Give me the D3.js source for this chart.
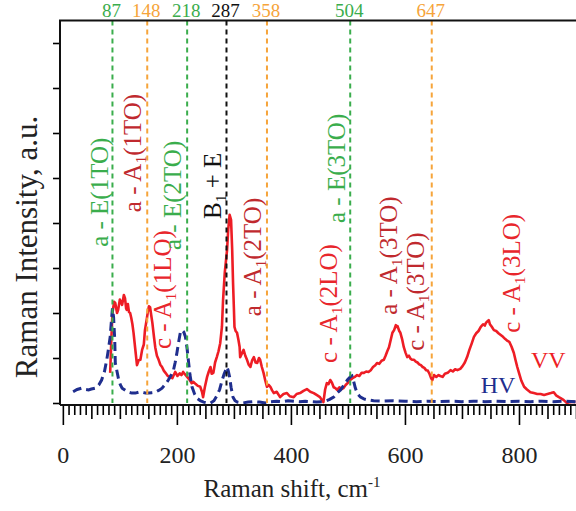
<!DOCTYPE html>
<html>
<head>
<meta charset="utf-8">
<script src="https://cdn.jsdelivr.net/npm/d3@7"></script>
<style>
  body { margin:0; background:#fff; }
  svg { display:block; font-family:"Liberation Serif","Times New Roman",serif; }
  svg text { font-family:"Liberation Serif","Times New Roman",serif; }
</style>
</head>
<body>
<svg id="chart" width="576" height="511"></svg>
<script>
// VV spectrum (red, solid line)
const vvShift = [83,85,87,90,92,95,97,100,104,107,109,111,112,114,116,118,120,122,124,127,130,133,136,139,142,144,147,149,151,153,155,157,160,162,165,168,171,174,177,180,184,188,192,197,201,205,208,211,214,218,222,226,229,233,237,241,244,246,249,253,256,259,261,264,267,270,273,276,279,281,284,288,290,292.5,295,297,298.5,300,301,303,305.5,308,310,311,314,317,320,323,326,329,332,335,338,341,344,346,349,352,355,358,361,364,367,370,375,381,387,393,398,405,410,416,422,428,434,440,445,451,455,457,460,463,466,469,472,475,478,481,485,489,492,496,500,504,508,512,516,520,524,528,532,536,540,544,548,551,555,559,563,566,569,572,575,578,581,584,585,587,590,592,595,598,601,604,607,610,613,616,619,622,625,628,631,634,637,640,643,646,648,651,655,659,662,666,670,675,680,684,688,692,697,701,705,709,713,717,721,725,729,733,737,740,742,745,747,749,752,756,760,764,768,772,776,780,783,787,791,794,797,800,804,809,814,820,826,832,838,844,850,856,861,865,870,873,878,884,890,895,899];
const vvInt = [0.67,1.4,2.0,2.25,2.22,2.0,2.07,2.3,2.18,2.4,2.33,2.1,2.07,2.2,2.02,2.0,1.89,1.75,1.56,1.2,0.84,0.95,0.96,1.18,1.3,1.62,1.85,2.02,2.15,2.13,1.95,1.78,1.45,1.24,1.05,0.96,0.85,0.8,0.72,0.67,0.6,0.58,0.55,0.69,0.6,0.66,0.62,0.69,0.64,0.58,0.52,0.44,0.47,0.42,0.38,0.36,0.25,0.13,0.35,0.58,0.7,0.8,0.65,0.67,0.9,1.02,1.15,1.33,1.69,2.29,2.9,3.4,3.85,4.18,4.07,3.4,2.67,2.1,1.69,1.6,1.56,1.4,1.25,1.02,1.1,1.18,1.05,0.96,0.85,0.8,0.95,1.02,0.9,0.89,1.0,0.96,0.8,0.67,0.5,0.36,0.4,0.36,0.28,0.22,0.25,0.13,0.2,0.22,0.15,0.13,0.2,0.22,0.27,0.31,0.25,0.22,0.18,0.13,0.05,0.02,0.3,0.44,0.42,0.51,0.45,0.35,0.33,0.29,0.35,0.31,0.33,0.4,0.45,0.51,0.55,0.58,0.62,0.6,0.67,0.67,0.7,0.69,0.73,0.8,0.84,0.89,0.87,0.94,0.96,1.05,1.15,1.24,1.4,1.56,1.62,1.73,1.69,1.71,1.6,1.56,1.42,1.24,1.12,1.02,1.05,0.98,0.96,0.96,0.92,0.9,0.86,0.84,0.8,0.78,0.73,0.72,0.65,0.55,0.51,0.62,0.58,0.62,0.6,0.58,0.65,0.67,0.73,0.7,0.75,0.73,0.76,0.82,0.9,1.02,1.18,1.32,1.47,1.55,1.6,1.69,1.75,1.72,1.78,1.82,1.84,1.75,1.7,1.62,1.6,1.55,1.51,1.47,1.42,1.38,1.36,1.25,1.11,0.95,0.8,0.67,0.5,0.36,0.3,0.24,0.22,0.2,0.2,0.18,0.2,0.22,0.24,0.17,0.13,0.11,0.07,0.0,0.02,0.03,0.02];

// HV spectrum (blue, dashed line)
const hvShift = [18,25,33,40,45,50,57,63,68,73,77,80,83,85,87,89,91,92,95,98,101,104,110,115,121,127,133,139,145,150,156,162,168,174,180,185,190,194,197,200,203,206,209,212,215,218,220.5,223,226.5,231,235,241,247,253,259,265,270,275,279,283,288,290,292.5,295,298.5,302,306,315,325,335,345,355,365,375,385,395,405,415,425,435,445,455,462,468,475,481,487,493,499,504,507,510,513,517,522,528,534,545,560,580,600,620,640,660,680,700,720,740,760,780,800,820,840,860,880,900];
const hvInt = [0.25,0.3,0.33,0.3,0.29,0.31,0.33,0.4,0.51,0.7,0.96,1.2,1.47,1.8,2.1,1.9,1.4,0.89,0.7,0.51,0.4,0.33,0.28,0.24,0.22,0.22,0.24,0.24,0.22,0.22,0.23,0.24,0.28,0.33,0.42,0.51,0.62,0.73,0.9,1.11,1.35,1.56,1.62,1.58,1.47,1.2,0.91,0.62,0.36,0.2,0.11,0.05,0.02,0.0,0.0,0.05,0.16,0.3,0.49,0.65,0.8,0.72,0.58,0.35,0.13,0.05,0.02,0.0,0.02,0.03,0.02,0.0,0.03,0.04,0.03,0.05,0.04,0.03,0.04,0.03,0.02,0.03,0.05,0.08,0.13,0.22,0.29,0.4,0.51,0.58,0.6,0.48,0.33,0.2,0.13,0.09,0.07,0.05,0.04,0.05,0.04,0.03,0.04,0.03,0.04,0.03,0.04,0.03,0.04,0.03,0.04,0.03,0.04,0.03,0.04,0.03];

// phonon mode positions (cm-1), marked by dashed lines
const modeShifts = [87, 148, 218, 287, 358, 504, 647];
const modeKinds = ["E", "A1", "E", "B", "A1", "E", "A1"];

// rotated assignment labels ("|1|" = subscript)
const assignNames = ["a - E(1TO)", "a - A|1|(1TO)", "c - A|1|(1LO)", "a - E(2TO)", "B|1| + E", "a - A|1|(2TO)",
                     "c - A|1|(2LO)", "a - E(3TO)", "a - A|1|(3TO)", "c - A|1|(3TO)", "c - A|1|(3LO)"];
const assignKinds = ["E", "aA", "cA", "E", "B", "aA", "cA", "E", "aA", "aA", "cA"];

const xTickLabels = [0, 200, 400, 600, 800];
const seriesNames = ["VV", "HV"];

// layout (label anchors in data units)
const assignAt = [[79,3.47],[137,4.24],[190,1.2],[207,3.4],[277,4.09],[347.5,1.93],[481,0.89],[495,4.0],[586,1.96],[633,1.16],[801,1.56]];
const seriesAt = [[821,0.78],[733,0.22]];
const kindColor = { E:"#3aad4c", A1:"#f6a43a", B:"#111", aA:"#c0292e", cA:"#e8262c" };
const seriesColor = ["#ee1d25", "#1f2e8e"];
const serif = '"Liberation Serif","Times New Roman",serif';

const svg = d3.select("#chart");
const x = d3.scaleLinear([-5, 900], [60, 576]);
const y = d3.scaleLinear([0, 8.5], [403, 20.5]);
const axisY = 405;

svg.append("defs").append("clipPath").attr("id", "clip")
  .append("rect").attr("x", 60).attr("y", 20).attr("width", 516).attr("height", 386);

const line = d3.line().x(d => x(d[0])).y(d => y(d[1]));

const plot = svg.append("g").attr("clip-path", "url(#clip)");
plot.append("path")
  .datum(d3.zip(vvShift, vvInt))
  .attr("d", line)
  .attr("fill", "none")
  .attr("stroke", seriesColor[0])
  .attr("stroke-width", 2.6)
  .attr("stroke-linejoin", "round");

plot.append("path")
  .datum(d3.zip(hvShift, hvInt))
  .attr("d", line)
  .attr("fill", "none")
  .attr("stroke", seriesColor[1])
  .attr("stroke-width", 3)
  .attr("stroke-dasharray", "9,5");

// mode lines
plot.selectAll("line.mode")
  .data(modeShifts)
  .join("line")
    .attr("class", "mode")
    .attr("x1", d => x(d)).attr("x2", d => x(d))
    .attr("y1", y(8.5)).attr("y2", y(0))
    .attr("stroke", (d, i) => kindColor[modeKinds[i]])
    .attr("stroke-width", 2)
    .attr("stroke-dasharray", "5,4");

svg.selectAll("text.mode")
  .data(modeShifts)
  .join("text")
    .attr("class", "mode")
    .attr("x", d => x(d) - 1)
    .attr("y", 17)
    .attr("text-anchor", "middle")
    .attr("font-size", 19)
    .attr("fill", (d, i) => kindColor[modeKinds[i]])
    .text(d => d);

// text with "|n|" subscripts
function richText(sel, str, size) {
  str.split("|").forEach((part, k) => {
    if (!part) return;
    const t = sel.append("tspan").text(part);
    if (k % 2 === 1) t.attr("font-size", size * 0.62).attr("dy", 5);
    else if (k > 0) t.attr("dy", -5);
  });
}

assignNames.forEach((name, i) => {
  const t = svg.append("text")
    .attr("transform", `translate(${x(assignAt[i][0])},${y(assignAt[i][1])}) rotate(-90)`)
    .attr("font-size", 25)
    .attr("fill", kindColor[assignKinds[i]]);
  richText(t, name, 25);
});

seriesNames.forEach((s, i) => {
  svg.append("text")
    .attr("x", x(seriesAt[i][0])).attr("y", y(seriesAt[i][1]))
    .attr("font-size", 24)
    .attr("fill", seriesColor[i])
    .text(s);
});

// x axis
const xAxis = d3.axisBottom(x)
  .tickValues(d3.range(0, 901, 10))
  .tickSizeOuter(0)
  .tickFormat(d => xTickLabels.includes(d) ? d : "");
const gx = svg.append("g")
  .attr("transform", `translate(0,${axisY})`)
  .call(xAxis)
  .attr("font-family", null);
gx.select(".domain").remove();
gx.selectAll(".tick line")
  .attr("y2", d => d % 200 === 0 ? 20 : d % 50 === 0 ? 14 : 10)
  .attr("stroke-width", 1.6);
gx.selectAll(".tick text")
  .attr("y", 58).attr("dy", null)
  .style("font-family", serif)
  .style("font-size", "24px")
  .attr("fill", "#222");

// y axis (ticks only)
const gy = svg.append("g")
  .attr("transform", "translate(60,0)")
  .call(d3.axisLeft(y).tickValues(d3.range(0, 9)).tickSize(7).tickFormat(""));
gy.select(".domain").remove();
gy.selectAll(".tick line").attr("stroke-width", 1.6);

// frame
svg.append("path")
  .attr("d", `M60,${axisY}V${y(8.5)}H576M60,${axisY}H576`)
  .attr("fill", "none")
  .attr("stroke", "#111")
  .attr("stroke-width", 2);

// titles
const xt = svg.append("text")
  .attr("x", 292).attr("y", 497)
  .attr("text-anchor", "middle")
  .attr("font-size", 25)
  .attr("fill", "#222")
  .text("Raman shift, cm");
xt.append("tspan").attr("font-size", 15).attr("dy", -10).text("-1");

svg.append("text")
  .attr("transform", "translate(37,247) rotate(-90)")
  .attr("text-anchor", "middle")
  .attr("font-size", 31)
  .attr("fill", "#222")
  .text("Raman Intensity, a.u.");
</script>
</body>
</html>
